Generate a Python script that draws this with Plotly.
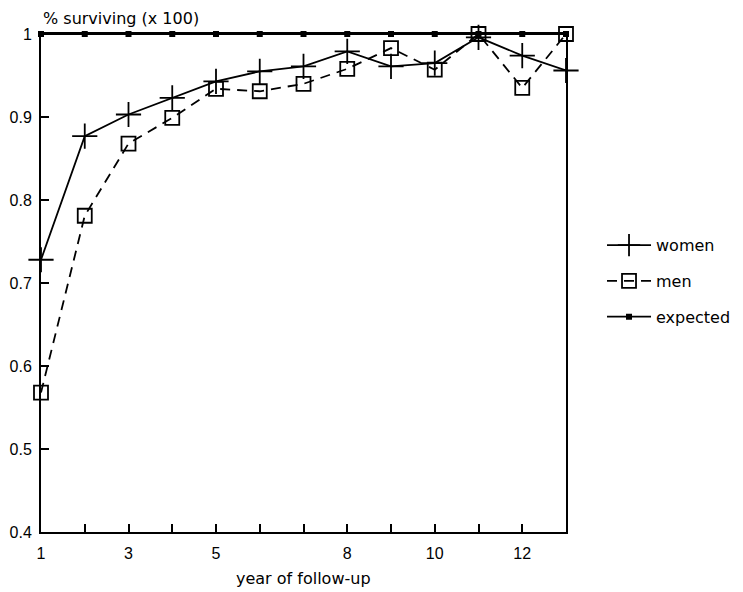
import plotly.graph_objects as go

years = list(range(1, 14))
women = [0.728, 0.877, 0.903, 0.923, 0.943, 0.955, 0.961, 0.979, 0.961, 0.965, 0.996, 0.974, 0.956]
men = [0.568, 0.781, 0.868, 0.899, 0.934, 0.931, 0.940, 0.958, 0.983, 0.957, 1.0, 0.935, 1.0]
expected = [1.0] * 13

x_tickvals = list(range(1, 14))
x_ticktext = ["1", "", "3", "", "5", "", "", "8", "", "10", "", "12", ""]
y_tickvals = [0.4, 0.5, 0.6, 0.7, 0.8, 0.9, 1.0]
y_ticktext = ["0.4", "0.5", "0.6", "0.7", "0.8", "0.9", "1"]

FONT = "DejaVu Sans, Arial, sans-serif"
TICKFONT = dict(family="Liberation Sans, Arial, sans-serif", size=16, color="black")

fig = go.Figure()
fig.add_trace(go.Scatter(
    x=years, y=women, name="women", mode="lines+markers",
    line=dict(color="black", width=1.8),
    marker=dict(symbol="cross-thin", size=18, line=dict(color="black", width=1.8)),
    legendgroup="a", cliponaxis=False))
fig.add_trace(go.Scatter(
    x=years, y=men, name="men", mode="lines+markers",
    line=dict(color="black", width=1.8, dash="10px,7px"),
    marker=dict(symbol="square-open", size=14, color="black", line=dict(color="black", width=1.8)),
    legendgroup="b", cliponaxis=False))
fig.add_trace(go.Scatter(
    x=years, y=expected, name="expected", mode="lines+markers",
    line=dict(color="black", width=1.8),
    marker=dict(symbol="square", size=6, color="black"),
    legendgroup="c", cliponaxis=False))

fig.update_layout(
    width=735, height=584,
    margin=dict(l=33, r=177, t=26, b=60, autoexpand=False),
    paper_bgcolor="white", plot_bgcolor="white",
    font=dict(family=FONT, size=16, color="black"),
    showlegend=True,
    legend=dict(x=1.0686, y=0.61, xanchor="left", yanchor="top",
                tracegroupgap=12, traceorder="grouped", itemwidth=44,
                font=dict(size=16), bgcolor="rgba(0,0,0,0)"),
    xaxis=dict(range=[1, 13], tickvals=x_tickvals, ticktext=x_ticktext,
               ticks="inside", ticklen=8, tickwidth=1.5, tickcolor="black",
               ticklabelstandoff=6, tickfont=TICKFONT,
               showline=True, linecolor="black", linewidth=2, mirror=True,
               showgrid=False, zeroline=False),
    yaxis=dict(range=[0.4, 1.0], tickvals=y_tickvals, ticktext=y_ticktext,
               ticks="inside", ticklen=8, tickwidth=1.5, tickcolor="black",
               ticklabelstandoff=4, tickfont=TICKFONT,
               showline=True, linecolor="black", linewidth=2, mirror=True,
               showgrid=False, zeroline=False),
    annotations=[
        dict(text="% surviving (x 100)", xref="paper", yref="paper",
             x=0, y=1, xanchor="left", yanchor="bottom", yshift=4,
             showarrow=False, font=dict(size=16)),
        dict(text="year of follow-up", xref="paper", yref="paper",
             x=0.5, y=0, xanchor="center", yanchor="middle", yshift=-46,
             showarrow=False, font=dict(size=16)),
    ],
)

fig.write_html("out.html")
